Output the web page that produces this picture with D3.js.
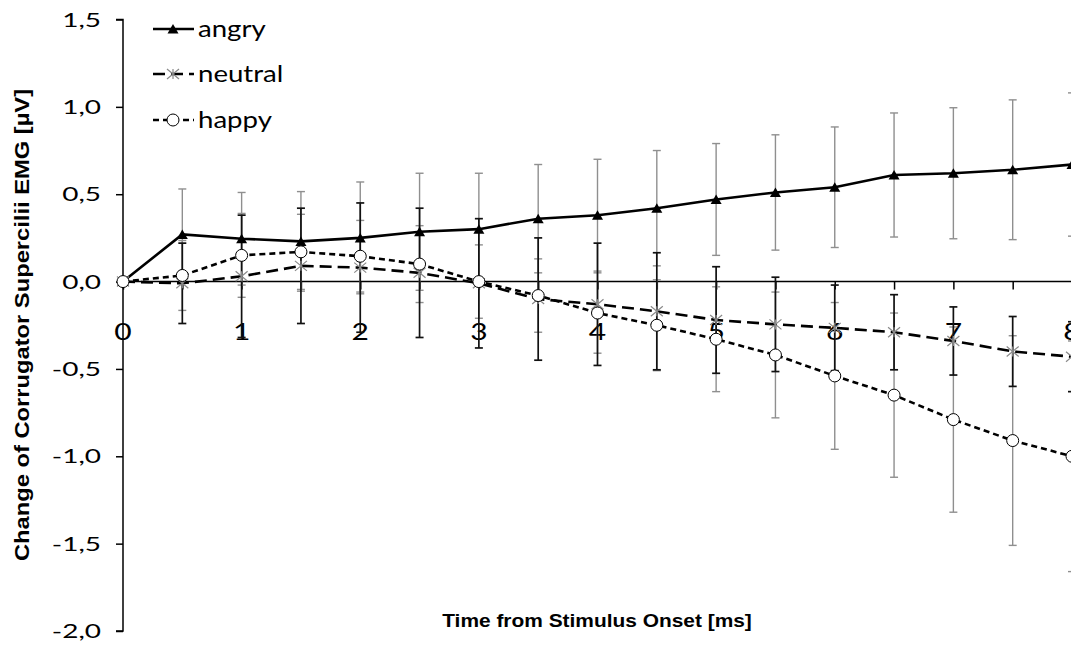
<!DOCTYPE html>
<html><head><meta charset="utf-8">
<script src="https://cdn.jsdelivr.net/npm/d3@7"></script>
<style>html,body{margin:0;padding:0;background:#fff;}svg{display:block;}</style>
</head><body>
<svg id="chart" width="1071" height="645"></svg>
<script>
// ---- data ----
const times = [0,0.5,1,1.5,2,2.5,3,3.5,4,4.5,5,5.5,6,6.5,7,7.5,8];
const angry      = [0,0.27,0.245,0.23,0.25,0.285,0.30,0.36,0.38,0.42,0.47,0.51,0.54,0.61,0.62,0.64,0.67];
const angryErr   = [0,0.26,0.265,0.285,0.32,0.335,0.32,0.31,0.32,0.33,0.32,0.33,0.345,0.355,0.375,0.40,0.41];
const neutral    = [0,-0.01,0.03,0.09,0.08,0.05,-0.01,-0.10,-0.13,-0.17,-0.22,-0.245,-0.265,-0.29,-0.34,-0.40,-0.43];
const neutralErr = [0,0.23,0.35,0.33,0.37,0.37,0.37,0.35,0.35,0.335,0.305,0.27,0.245,0.215,0.195,0.20,0.20];
const happy      = [0,0.035,0.15,0.17,0.145,0.10,0,-0.08,-0.18,-0.25,-0.33,-0.42,-0.54,-0.65,-0.79,-0.91,-1.0];
const happyErr   = [0,0.20,0.24,0.215,0.205,0.22,0.21,0.21,0.23,0.26,0.30,0.36,0.42,0.47,0.53,0.60,0.66];
const yTicks = [-2,-1.5,-1,-0.5,0,0.5,1,1.5];
const xLabels = [0,1,2,3,4,5,6,7,8];
const seriesNames = ["angry","neutral","happy"];
const xTitle = "Time from Stimulus Onset [ms]";
const yTitle = "Change of Corrugator Supercilii EMG [µV]";

// ---- layout ----
const svg = d3.select("#chart");
const x = d3.scaleLinear().domain([0,8]).range([123,1072]);
const y = d3.scaleLinear().domain([-2,1.5]).range([631,19.5]);
const fmt = v => d3.format(".1f")(v).replace(".",",").replace("\u2212","-");

function txt(parent, px, py, s, o){
  const t = parent.append("text")
    .attr("transform", `translate(${px},${py})${o.rotate?` rotate(${o.rotate})`:""} scale(${o.sx||1},1)`)
    .attr("text-anchor", o.anchor||"start")
    .attr("font-family", o.family||"Lato")
    .attr("font-size", o.size)
    .attr("font-weight", o.weight||"normal")
    .attr("fill", "#000")
    .text(s);
  if (o.dy) t.attr("dy", o.dy);
  return t;
}

// y axis
const yAxis = svg.append("g").attr("transform","translate(123,0)")
  .call(d3.axisLeft(y).tickValues(yTicks).tickSize(7).tickFormat(""));
yAxis.select(".domain").attr("stroke","#000").attr("stroke-width",1.5).attr("d",`M-7,${y(1.5)}H0V${y(-2)}H-7`);
yAxis.selectAll(".tick line").attr("stroke","#000").attr("stroke-width",1.5);
yTicks.forEach(v => txt(svg, 101, y(v), fmt(v), {size:20, anchor:"end", sx:1.4, dy:"0.36em"}));

// zero line / x axis
const xAxis = svg.append("g").attr("transform",`translate(0,${y(0)})`)
  .call(d3.axisBottom(x).tickValues(times).tickSize(8).tickFormat(""));
xAxis.select(".domain").attr("stroke","#000").attr("stroke-width",1.5).attr("d",`M123,0H1071`);
xAxis.selectAll(".tick line").attr("stroke","#000").attr("stroke-width",1.5);
xLabels.forEach(v => txt(svg, x(v), 340, String(v), {size:24, anchor:"middle", sx:1.25}));

// error bars
function errBars(vals, errs, color, w){
  const g = svg.append("g").attr("stroke", color).attr("stroke-width",w).attr("fill","none");
  times.forEach((t,i)=>{
    if(!errs[i]) return;
    const cx = x(t), y1 = y(vals[i]+errs[i]), y2 = y(vals[i]-errs[i]);
    g.append("line").attr("x1",cx).attr("x2",cx).attr("y1",y1).attr("y2",y2);
    g.append("line").attr("x1",cx-4).attr("x2",cx+4).attr("y1",y1).attr("y2",y1);
    g.append("line").attr("x1",cx-4).attr("x2",cx+4).attr("y1",y2).attr("y2",y2);
  });
}
errBars(angry, angryErr, "#8f8f8f", 1.4);
errBars(happy, happyErr, "#8f8f8f", 1.4);
errBars(neutral, neutralErr, "#111", 1.7);

// lines
const line = d3.line().x((d,i)=>x(times[i])).y(d=>y(d));
const styles = {
  angry:   {data:angry,   dash:null},
  neutral: {data:neutral, dash:"12,6"},
  happy:   {data:happy,   dash:"6,4"}
};
seriesNames.forEach(n=>{
  svg.append("path").datum(styles[n].data).attr("d",line)
    .attr("fill","none").attr("stroke","#000").attr("stroke-width",2.6)
    .attr("stroke-dasharray",styles[n].dash);
});

// markers
function marker(g, n, cx, cy){
  if(n==="angry"){
    g.append("path").attr("d",`M${cx-5.5},${cy+4.5}L${cx},${cy-5}L${cx+5.5},${cy+4.5}Z`).attr("fill","#000");
  } else if(n==="neutral"){
    g.append("path").attr("d",`M${cx-6},${cy-5}L${cx+6},${cy+5}M${cx-6},${cy+5}L${cx+6},${cy-5}M${cx},${cy-5}V${cy+5}`)
      .attr("stroke","#8a8a8a").attr("stroke-width",1.2).attr("fill","none");
  } else {
    g.append("circle").attr("cx",cx).attr("cy",cy).attr("r",6).attr("fill","#fff").attr("stroke","#000").attr("stroke-width",1);
  }
}
const mk = svg.append("g");
["neutral","angry","happy"].forEach(n=>{
  styles[n].data.forEach((v,i)=>marker(mk, n, x(times[i]), y(v)));
});

// legend
const lg = svg.append("g");
const legY = [29,74,120];
seriesNames.forEach((n,i)=>{
  const ly = legY[i];
  lg.append("line").attr("x1",153).attr("x2",194).attr("y1",ly).attr("y2",ly)
    .attr("stroke","#000").attr("stroke-width",2.6).attr("stroke-dasharray",styles[n].dash);
  marker(lg, n, 173, ly);
  txt(lg, 198, ly+8, n, {size:24, sx:1.15});
});

// axis titles
txt(svg, 597, 627, xTitle, {size:19, weight:"bold", family:"Liberation Sans", anchor:"middle", sx:1.1});
txt(svg, 29, 325, yTitle, {size:21, weight:"bold", family:"Liberation Sans", anchor:"middle", rotate:-90, sx:1.13});
</script>
</body></html>
